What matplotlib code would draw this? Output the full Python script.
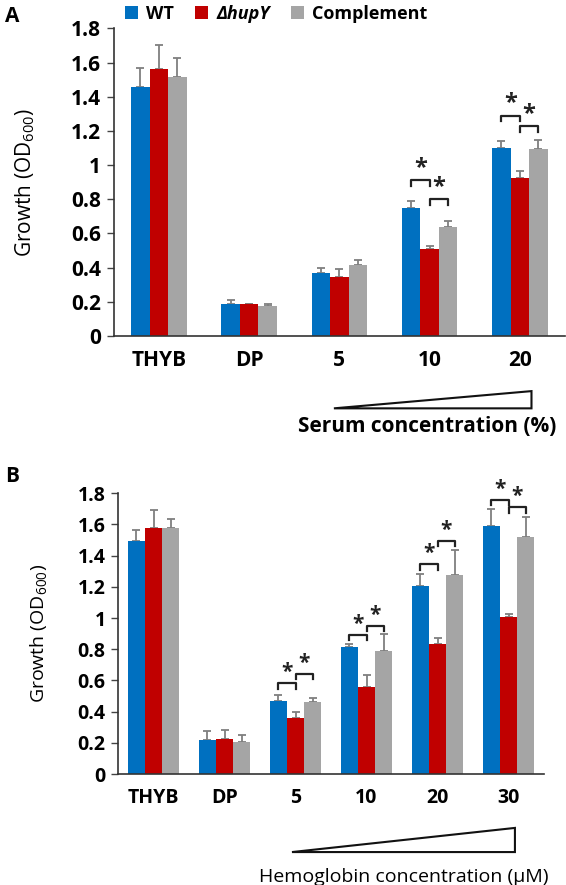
import matplotlib
matplotlib.use("Agg")
import matplotlib.pyplot as plt
import numpy as np
from matplotlib.patches import Polygon
import matplotlib.transforms as mtransforms

plt.rcParams['font.family'] = ['Open Sans', 'DejaVu Sans']

series = ['WT', 'ΔhupY', 'Complement']
colors = ['#0070C0', '#C00000', '#A5A5A5']

# panel A: serum
cats_a = ['THYB', 'DP', '5', '10', '20']
wt_a = [1.455, 0.19, 0.37, 0.75, 1.10]
hupy_a = [1.56, 0.185, 0.348, 0.51, 0.922]
comp_a = [1.518, 0.173, 0.418, 0.64, 1.092]
wt_a_err = [0.113, 0.022, 0.03, 0.042, 0.038]
hupy_a_err = [0.14, 0.004, 0.047, 0.015, 0.045]
comp_a_err = [0.111, 0.016, 0.024, 0.031, 0.056]
# (group, left bar of pair, bracket height)
sig_a = [(3, 0, 0.915), (3, 1, 0.80), (4, 0, 1.29), (4, 1, 1.23)]

# panel B: hemoglobin
cats_b = ['THYB', 'DP', '5', '10', '20', '30']
wt_b = [1.495, 0.215, 0.468, 0.812, 1.207, 1.589]
hupy_b = [1.579, 0.226, 0.357, 0.558, 0.833, 1.005]
comp_b = [1.579, 0.208, 0.464, 0.79, 1.278, 1.521]
wt_b_err = [0.069, 0.064, 0.037, 0.021, 0.073, 0.108]
hupy_b_err = [0.113, 0.057, 0.043, 0.078, 0.037, 0.024]
comp_b_err = [0.053, 0.041, 0.026, 0.108, 0.157, 0.129]
sig_b = [(2, 0, 0.582), (2, 1, 0.644), (3, 0, 0.893), (3, 1, 0.951),
         (4, 0, 1.344), (4, 1, 1.497), (5, 0, 1.757), (5, 1, 1.71)]


def draw_panel(ax, cats, vals, errs, sig, width, tick_size, label_size,
               star_size, tri, tri_y, xlabel, xlabel_pos, xlabel_weight,
               ylabel_x):
    x = np.arange(len(cats))
    handles = []
    for i, (v, e) in enumerate(zip(vals, errs)):
        pos = x + (i - 1) * width
        b = ax.bar(pos, v, width, color=colors[i], label=series[i], zorder=2)
        ax.errorbar(pos, v, yerr=[np.zeros(len(e)), e], fmt='none',
                    ecolor='#7F7F7F', elinewidth=1.3, capsize=3, capthick=1.3,
                    zorder=1)
        handles.append(b)

    drop = 0.035
    for g, j, y in sig:
        x0 = g + (j - 1) * width
        x1 = x0 + width
        ax.plot([x0, x0, x1, x1], [y - drop, y, y, y - drop], color='#222222',
                lw=1.6, clip_on=False)
        ax.text((x0 + x1) / 2, y, '*', ha='center', va='bottom',
                fontsize=star_size, fontweight='bold', color='#222222')

    ax.set_xlim(-0.5, len(cats) - 0.5)
    ax.set_ylim(0, 1.8)
    ax.set_yticks(np.arange(0, 1.81, 0.2))
    ax.set_yticklabels(['0', '0.2', '0.4', '0.6', '0.8', '1', '1.2', '1.4',
                        '1.6', '1.8'])
    ax.set_xticks(x)
    ax.set_xticklabels(cats)
    for lab in ax.get_xticklabels() + ax.get_yticklabels():
        lab.set_fontweight('bold')
        lab.set_fontsize(tick_size)
    ax.tick_params(axis='x', length=0, pad=10)
    ax.tick_params(axis='y', length=5, width=1, color='#444444', pad=4)
    for s in ['top', 'right']:
        ax.spines[s].set_visible(False)
    for s in ['left', 'bottom']:
        ax.spines[s].set_color('#333333')
        ax.spines[s].set_linewidth(1.2)

    ax.set_ylabel('Growth (OD$_{\\mathregular{600}}$)', fontsize=label_size)
    ax.yaxis.set_label_coords(ylabel_x, 0.5)

    trans = mtransforms.blended_transform_factory(ax.transData, ax.transAxes)
    tri_pts = [[tri[0], tri_y[0]], [tri[1], tri_y[0]], [tri[1], tri_y[1]]]
    ax.add_patch(Polygon(tri_pts, closed=True, fill=False, edgecolor='#111111',
                         lw=1.5, transform=trans, clip_on=False))
    ax.text(xlabel_pos[0], xlabel_pos[1], xlabel, transform=trans,
            ha='center', va='center', fontsize=label_size,
            fontweight=xlabel_weight)
    return handles


fig = plt.figure(figsize=(5.66, 8.85), dpi=100)

ax_a = fig.add_axes([0.201, 0.6203, 0.797, 0.3477])
handles = draw_panel(ax_a, cats_a, [wt_a, hupy_a, comp_a],
                     [wt_a_err, hupy_a_err, comp_a_err], sig_a, 0.205,
                     15, 15, 17, (1.94, 4.13), (-0.235, -0.179),
                     'Serum concentration (%)', (2.97, -0.295), 'bold', -0.17)

ax_b = fig.add_axes([0.2085, 0.1254, 0.7527, 0.3172])
draw_panel(ax_b, cats_b, [wt_b, hupy_b, comp_b],
           [wt_b_err, hupy_b_err, comp_b_err], sig_b, 0.24,
           14, 14, 15, (1.95, 5.09), (-0.278, -0.192),
           'Hemoglobin concentration (μM)', (3.53, -0.367), 'normal', -0.16)

leg = fig.legend(handles=handles, labels=series, loc='center',
                 bbox_to_anchor=(0.488, 1 - 14 / 885), ncol=3, frameon=False,
                 handlelength=0.7, handleheight=0.7, handletextpad=0.45,
                 columnspacing=1.2, prop={'weight': 'bold', 'size': 13})
leg.get_texts()[1].set_style('italic')

fig.text(5 / 566, 1 - 16 / 885, 'A', fontsize=15, fontweight='bold',
         va='center', ha='left')
fig.text(5 / 566, 1 - 476 / 885, 'B', fontsize=15, fontweight='bold',
         va='center', ha='left')

fig.savefig('out.png', dpi=100)
